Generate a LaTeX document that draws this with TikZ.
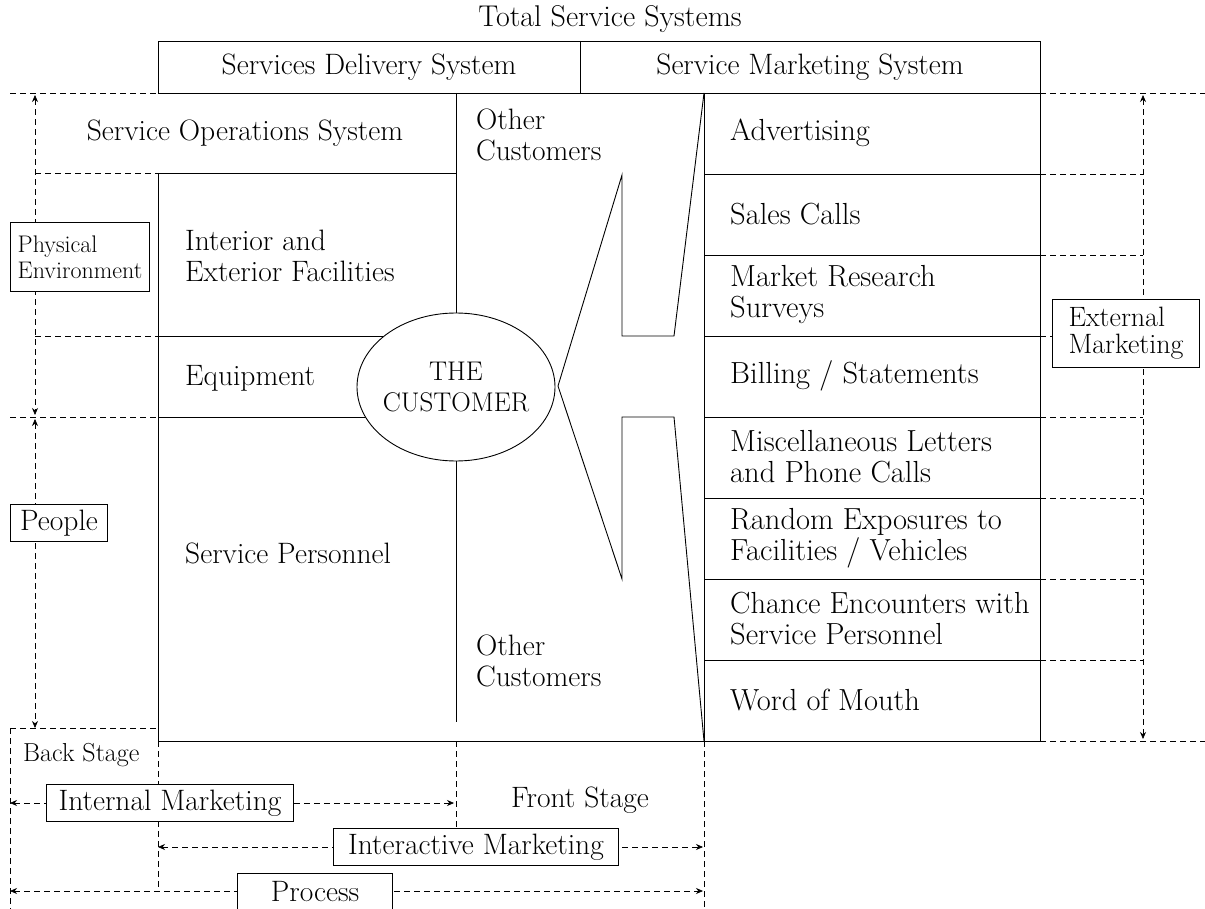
\documentclass[tikz,border=0pt]{standalone}
\usepackage{fontspec}
\usepackage{tikz}
\usetikzlibrary{positioning}
\usetikzlibrary{arrows.meta}
\usetikzlibrary{shapes.geometric}

\tikzset{
  frame/.style={line width=0.9pt},
  guide/.style={line width=0.7pt, dash pattern=on 6pt off 4pt},
  tip/.tip={Stealth[length=7pt,width=6pt]},
  dimarrow/.style={guide, tip-tip},
  txt/.style={font=\fontsize{29.5}{31}\selectfont, inner sep=0pt},
  rowtxt/.style={font=\fontsize{30.5}{31}\selectfont, anchor=west, align=left},
  labelbox/.style={draw, frame, fill=white, inner xsep=12pt, inner ysep=0pt, minimum height=37pt},
}

\begin{document}
\begin{tikzpicture}[x=1pt, y=-1pt, every node/.style={txt}]
\useasboundingbox (0,0) rectangle (1205,909);

% header strip
\coordinate (hdrA) at (158,41);
\coordinate (hdrB) at (1040,93);
\draw[frame] (hdrA) rectangle (hdrB);
\draw[frame] (580,41) -- (580,93);
\node[font=\fontsize{30}{31}\selectfont] (total) at (610,19) {Total Service Systems};
\node (sds) at (369,67) {Services Delivery System};
\node (sms) at (810,67) {Service Marketing System};

% delivery system
\coordinate (opsL) at (158,173);
\coordinate (opsR) at (456,173);
\coordinate (midT) at (456,93);
\coordinate (midB) at (456,722);
\coordinate (mktT) at (704,93);
\coordinate (mktB) at (704,741);
\coordinate (boxBL) at (158,741);
\coordinate (boxBR) at (1040,741);
\draw[frame] (opsL) -- (boxBL) -- (boxBR) -- (hdrB);
\draw[frame] (opsL) -- (opsR);
\draw[frame] (midT) -- (midB);
\draw[frame] (158,336) -- (456,336);
\draw[frame] (158,417) -- (456,417);

% marketing column
\draw[frame] (mktT) -- (mktB);
\foreach \y in {174,255,336,417,498,579,660}
  \draw[frame] (704,\y) -- (1040,\y);
\draw[frame] (mktT) -- (674,336) -- (622,336) -- (622,175) -- (558,386)
  -- (622,579) -- (622,417) -- (674,417) -- (mktB);

\node[draw, frame, ellipse, fill=white, minimum width=198pt, minimum height=148pt]
  (cust) at (456,387) {};
\node[align=center, font=\fontsize{27}{31}\selectfont] (custtxt) at (cust) {THE\\CUSTOMER};

\node (ops) at (245,133) {Service Operations System};
\node[anchor=west, align=left] (othA) at (476,135) {Other\\Customers};
\node[anchor=west, align=left] (othB) at (476,661) {Other\\Customers};
\node[anchor=west, align=left] (facil) at (185,256) {Interior and\\Exterior Facilities};
\node[anchor=west] (equip) at (185,378) {Equipment};
\node[anchor=west] (staff) at (185,553) {Service Personnel};

\foreach \t [count=\i] in {Advertising, Sales Calls, {Market Research\\Surveys},
    {Billing / Statements}, {Miscellaneous Letters\\and Phone Calls},
    {Random Exposures to\\Facilities / Vehicles},
    {Chance Encounters with\\Service Personnel}, Word of Mouth}
  \node[rowtxt] (row\i) at (730,52+81*\i) {\t};

% left guides
\draw[guide] (10,93) -- (158,93);
\draw[guide] (35,173) -- (opsL);
\draw[guide] (35,336) -- (158,336);
\draw[guide] (10,417) -- (158,417);
\draw[guide] (10,728) -- (158,728);
\coordinate (physT) at (35,95);
\coordinate (physB) at (35,415);
\coordinate (pplB) at (35,728);
\draw[dimarrow] (physT) -- (physB);
\draw[dimarrow] (35,419) -- (pplB);
\node[labelbox, align=left, inner xsep=7pt, minimum width=139pt, minimum height=69pt,
  font=\fontsize{24}{26}\selectfont] (phys) at (80,257) {Physical\\Environment};
\node[labelbox, inner xsep=10pt] (ppl) at (59,523) {People};

% right guides
\draw[guide] (hdrB) -- (1205,93);
\draw[guide] (boxBR) -- (1205,741);
\foreach \y in {174,255,336,417,498,579,660}
  \draw[guide] (1040,\y) -- (1143,\y);
\coordinate (extT) at (1143,95);
\coordinate (extB) at (1143,739);
\draw[dimarrow] (extT) -- (extB);
\node[labelbox, align=left, minimum width=147pt, minimum height=68pt,
  font=\fontsize{28}{27}\selectfont] (ext) at (1126,333) {External\\Marketing};

% stages and marketing spans
\draw[guide] (10,728) -- (10,909);
\draw[guide] (boxBL) -- (158,891);
\draw[guide] (456,741) -- (456,829);
\draw[guide] (mktB) -- (704,909);
\node[anchor=west, font=\fontsize{26}{31}\selectfont] (back) at (23,755) {Back Stage};
\node (front) at (580,800) {Front Stage};

\draw[dimarrow] (10,803) -- (454,803);
\node[labelbox, minimum width=247pt] (intm) at (170,803) {Internal Marketing};
\draw[dimarrow] (158,847) -- (703,847);
\node[labelbox, minimum width=285pt] (inter) at (476,847) {Interactive Marketing};
\draw[dimarrow] (10,891) -- (703,891);
\node[labelbox, minimum width=155pt] (proc) at (315,892) {Process};
\end{tikzpicture}
\end{document}
